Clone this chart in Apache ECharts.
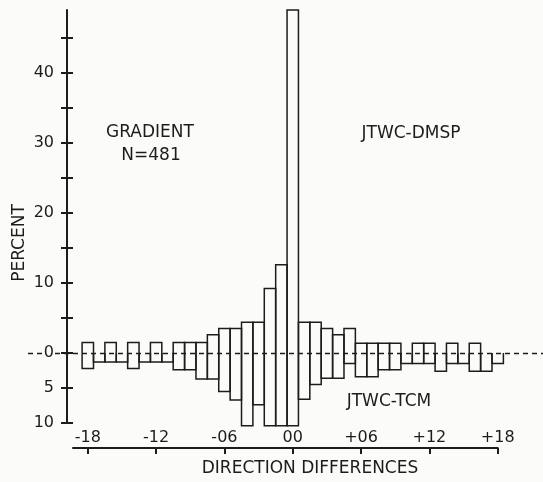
<!DOCTYPE html>
<html>
<head>
<meta charset="utf-8">
<title>Direction differences</title>
<script src="https://cdn.jsdelivr.net/npm/echarts@6.0.0/dist/echarts.min.js"></script>
<style>
  html, body { margin: 0; padding: 0; background: #fbfbf9; }
  #chart { width: 543px; height: 482px; }
</style>
</head>
<body>
<div id="chart"></div>
<script>
  // direction difference bins (degrees)
  const directions = [-18, -17, -16, -15, -14, -13, -12, -11, -10, -9, -8, -7, -6, -5, -4, -3, -2, -1, 0,
    1, 2, 3, 4, 5, 6, 7, 8, 9, 10, 11, 12, 13, 14, 15, 16, 17, 18];
  // JTWC-DMSP, percent (drawn upward)
  const dmspPct = [1.5, 0, 1.5, 0, 1.5, 0, 1.5, 0, 1.5, 1.5, 1.5, 2.6, 3.5, 3.5, 4.4, 4.4, 9.2, 12.6, 49,
    4.4, 4.4, 3.5, 2.6, 3.5, 1.4, 1.4, 1.4, 1.4, 0, 1.4, 1.4, 0, 1.4, 0, 1.4, 0, 0];
  // JTWC-TCM, percent (drawn downward)
  const tcmPct = [2.2, 1.3, 1.3, 1.3, 2.2, 1.3, 1.3, 1.3, 2.4, 2.4, 3.7, 3.7, 5.5, 6.7, 10.4, 7.4, 10.4, 10.4, 10.4,
    6.6, 4.5, 3.6, 3.6, 1.5, 3.4, 3.4, 2.4, 2.4, 1.5, 1.5, 1.5, 2.6, 1.5, 1.5, 2.6, 2.6, 1.5];

  const yTicks = [-10, -5, 0, 5, 10, 15, 20, 25, 30, 35, 40, 45];
  const yLabels = [-10, -5, 0, 10, 20, 30, 40];
  const xTicks = [-18, -12, -6, 0, 6, 12, 18];

  const ink = '#1c1c1c';
  const bg = '#fbfbf9';
  const font = 'DejaVu Sans';

  function dirLabel(v) {
    let s = String(Math.abs(v)).padStart(2, '0');
    if (v > 0) return '+' + s;
    if (v < 0) return '-' + s;
    return s;
  }

  function txt(text, x, y, rot) {
    return {
      type: 'text', x: x, y: y, rotation: rot || 0, silent: true,
      style: { text: text, fill: ink, font: '17px "' + font + '"', align: 'center', verticalAlign: 'middle' }
    };
  }

  // open box: the side on the zero line is left out so the dashed line shows
  function openBar(params, api) {
    let x = api.value(0);
    let v = api.value(1);
    if (!v) return null;
    let a = api.coord([x - 0.5, 0]);
    let b = api.coord([x + 0.5, v]);
    return {
      type: 'polyline',
      shape: { points: [[a[0], a[1]], [a[0], b[1]], [b[0], b[1]], [b[0], a[1]]] },
      style: { stroke: ink, fill: null, lineWidth: 1.5 }
    };
  }

  let chart = echarts.init(document.getElementById('chart'));
  chart.setOption({
    animation: false,
    backgroundColor: bg,
    grid: [
      { left: 73, right: 45.3, top: 10, bottom: 59 },
      // wide grid only for the dashed zero line
      { left: 28, right: 0, top: 10, bottom: 59 }
    ],
    xAxis: [{
      gridIndex: 0,
      type: 'value',
      min: -19.3,
      max: 18,
      offset: 25,
      axisLine: { show: true, onZero: false, lineStyle: { color: ink, width: 2 } },
      axisTick: { show: true, length: 6, customValues: xTicks, lineStyle: { color: ink, width: 2 } },
      axisLabel: {
        inside: true, margin: 2, customValues: xTicks, formatter: dirLabel,
        color: ink, fontFamily: font, fontSize: 16
      },
      splitLine: { show: false }
    }, {
      gridIndex: 1, type: 'value', min: 0, max: 1, show: false
    }],
    yAxis: [{
      gridIndex: 0,
      type: 'value',
      position: 'left',
      min: -10,
      max: 49,
      offset: 6,
      z: 5,
      axisLine: { show: true, onZero: false, lineStyle: { color: ink, width: 2 } },
      axisTick: { show: true, length: 6, customValues: yTicks, lineStyle: { color: ink, width: 2 } },
      axisLabel: {
        customValues: yLabels, formatter: v => String(Math.abs(v)), margin: 12,
        color: ink, fontFamily: font, fontSize: 16, backgroundColor: bg, padding: [0, 1]
      },
      splitLine: { show: false }
    }, {
      // second axis gives the ticks that cross the line
      gridIndex: 0,
      type: 'value',
      position: 'left',
      min: -10,
      max: 49,
      offset: 6,
      z: 5,
      axisLine: { show: false, onZero: false },
      axisTick: { show: true, inside: true, length: 6, customValues: yTicks, lineStyle: { color: ink, width: 2 } },
      axisLabel: { show: false },
      splitLine: { show: false }
    }, {
      gridIndex: 1, type: 'value', min: -10, max: 49, show: false
    }],
    graphic: [
      txt('PERCENT', 20, 243, Math.PI / 2),
      txt('GRADIENT', 150, 133),
      txt('N=481', 151, 156),
      txt('JTWC-DMSP', 411, 134),
      txt('JTWC-TCM', 389, 402),
      txt('DIRECTION DIFFERENCES', 310, 469)
    ],
    series: [{
      name: 'JTWC-DMSP',
      type: 'custom',
      xAxisIndex: 0,
      yAxisIndex: 0,
      clip: false,
      renderItem: openBar,
      encode: { x: 0, y: 1 },
      data: directions.map((d, i) => [d, dmspPct[i]])
    }, {
      name: 'JTWC-TCM',
      type: 'custom',
      xAxisIndex: 0,
      yAxisIndex: 0,
      clip: false,
      renderItem: openBar,
      encode: { x: 0, y: 1 },
      data: directions.map((d, i) => [d, -tcmPct[i]])
    }, {
      type: 'line',
      xAxisIndex: 1,
      yAxisIndex: 2,
      z: 1,
      silent: true,
      data: [],
      markLine: {
        silent: true,
        symbol: ['none', 'none'],
        label: { show: false },
        lineStyle: { type: [5, 4], color: ink, width: 1.3 },
        data: [{ yAxis: 0 }]
      }
    }]
  });
</script>
</body>
</html>
